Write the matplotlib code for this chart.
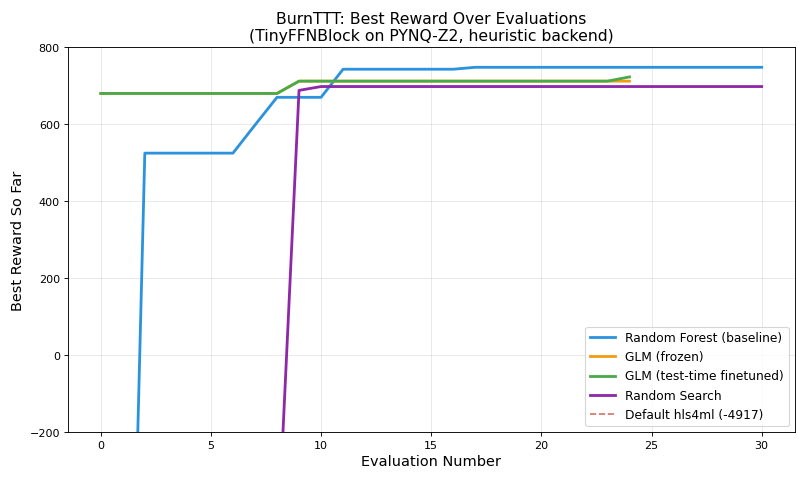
import numpy as np
import matplotlib
matplotlib.use('Agg')
import matplotlib.pyplot as plt

# best reward so far, per evaluation
rf_x = np.arange(0, 31)
rf_y = [-4917, -1750, 525, 525, 525, 525, 525, 598, 670, 670, 670, 743, 743, 743, 743, 743, 743,
        748, 748, 748, 748, 748, 748, 748, 748, 748, 748, 748, 748, 748, 748]

glm_x = np.arange(0, 25)
glm_frozen_y = [680, 680, 680, 680, 680, 680, 680, 680, 680, 712, 712, 712, 712, 712, 712, 712,
                712, 712, 712, 712, 712, 712, 712, 712, 712]
glm_ft_y = [680, 680, 680, 680, 680, 680, 680, 680, 680, 712, 712, 712, 712, 712, 712, 712,
            712, 712, 712, 712, 712, 712, 712, 712, 723]

rs_x = np.arange(0, 31)
rs_y = [-4917, -4917, -4917, -4917, -4917, -4917, -4917, -4917, -530, 688, 698, 698, 698, 698,
        698, 698, 698, 698, 698, 698, 698, 698, 698, 698, 698, 698, 698, 698, 698, 698, 698]

default_hls4ml = -4917

fig = plt.figure(figsize=(10, 6), dpi=80.6)
ax = fig.add_subplot(111)

ax.plot(rf_x, rf_y, '-', color='#2b93de', lw=2.5, label='Random Forest (baseline)')
ax.plot(glm_x, glm_frozen_y, '-', color='#f29c11', lw=2.5, label='GLM (frozen)')
ax.plot(glm_x, glm_ft_y, '-', color='#4aaa4a', lw=2.5, label='GLM (test-time finetuned)')
ax.plot(rs_x, rs_y, '-', color='#8e27a8', lw=2.5, label='Random Search')
ax.axhline(default_hls4ml, color='#c0392b', ls='--', lw=1.5, alpha=0.7,
           label='Default hls4ml (%d)' % default_hls4ml)

ax.set_ylim(-200, 800)
ax.set_xlabel('Evaluation Number', fontsize=13)
ax.set_ylabel('Best Reward So Far', fontsize=13)
ax.set_title('BurnTTT: Best Reward Over Evaluations\n(TinyFFNBlock on PYNQ-Z2, heuristic backend)', fontsize=14)
ax.grid(True, alpha=0.3)
ax.legend(loc='lower right', fontsize=11)

plt.subplots_adjust(left=0.084, right=0.986, top=0.901, bottom=0.105)
plt.savefig('out.png')
